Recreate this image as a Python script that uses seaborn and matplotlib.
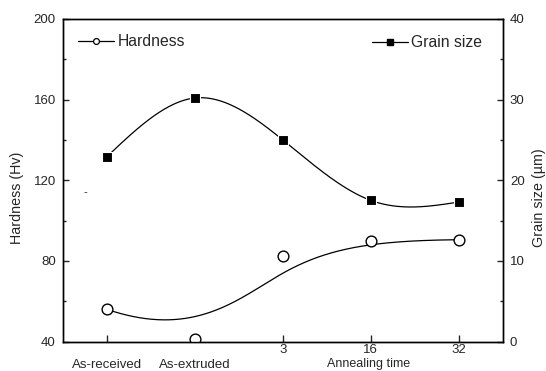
import numpy as np
import pandas as pd
import matplotlib
matplotlib.use("Agg")
import matplotlib.pyplot as plt
import seaborn as sns
from matplotlib.lines import Line2D
from matplotlib.ticker import MultipleLocator, FixedLocator
import matplotlib.transforms as mtransforms

# ---- data ----
conditions = ["As-received", "As-extruded", "3", "16", "32"]
positions = [1, 2, 3, 4, 5]
hardness = [56.0, 41.0, 82.2, 90.1, 90.5]
grain_size = [22.9, 30.2, 25.0, 17.5, 17.3]

sns.set_style("ticks")
plt.rcParams["font.family"] = ["Liberation Sans", "DejaVu Sans"]


def clamped_bspline(xc, yc, n=300, k=3):
    xc = np.asarray(xc, float); yc = np.asarray(yc, float)
    m = len(xc)
    n_int = m - k - 1
    knots = np.concatenate([np.zeros(k + 1), np.linspace(0, 1, n_int + 2)[1:-1], np.ones(k + 1)])
    t = np.linspace(0, 1 - 1e-9, n)

    def N(i, p, t):
        if p == 0:
            return ((knots[i] <= t) & (t < knots[i + 1])).astype(float)
        a = 0.0
        d1 = knots[i + p] - knots[i]
        if d1 > 0:
            a = (t - knots[i]) / d1 * N(i, p - 1, t)
        b = 0.0
        d2 = knots[i + p + 1] - knots[i + 1]
        if d2 > 0:
            b = (knots[i + p + 1] - t) / d2 * N(i + 1, p - 1, t)
        return a + b

    B = np.array([N(i, k, t) for i in range(m)])
    return B.T @ xc, B.T @ yc


def natural_spline(x, y, n=300):
    x = np.asarray(x, float); y = np.asarray(y, float)
    m = len(x)
    h = np.diff(x)
    A = np.zeros((m, m)); r = np.zeros(m)
    A[0, 0] = 1; A[-1, -1] = 1
    for i in range(1, m - 1):
        A[i, i - 1] = h[i - 1]; A[i, i] = 2 * (h[i - 1] + h[i]); A[i, i + 1] = h[i]
        r[i] = 6 * ((y[i + 1] - y[i]) / h[i] - (y[i] - y[i - 1]) / h[i - 1])
    M = np.linalg.solve(A, r)
    xs = np.linspace(x[0], x[-1], n)
    ys = np.empty_like(xs)
    for j, xv in enumerate(xs):
        i = min(np.searchsorted(x, xv, side="right") - 1, m - 2)
        a = x[i + 1] - xv; b = xv - x[i]
        ys[j] = (M[i] * a**3 + M[i + 1] * b**3) / (6 * h[i]) + (y[i] / h[i] - M[i] * h[i] / 6) * a + (y[i + 1] / h[i] - M[i + 1] * h[i] / 6) * b
    return xs, ys


fig = plt.figure(figsize=(5.46, 3.71), dpi=100)
ax = fig.add_axes([0.1148, 0.0795, 0.8064, 0.8693])
ax2 = ax.twinx()

hx, hy = clamped_bspline(positions, hardness)
gx, gy = natural_spline(positions, grain_size)

df_h = pd.DataFrame({"x": hx, "y": hy})
df_g = pd.DataFrame({"x": gx, "y": gy})

sns.lineplot(data=df_h, x="x", y="y", ax=ax, sort=False, color="black", lw=0.9, zorder=2)
sns.scatterplot(x=positions, y=hardness, ax=ax, marker="o", s=60, facecolor="white",
                edgecolor="black", linewidth=1.0, zorder=3)
sns.lineplot(data=df_g, x="x", y="y", ax=ax2, sort=False, color="black", lw=0.9, zorder=2)
sns.scatterplot(x=positions, y=grain_size, ax=ax2, marker="s", s=55, color="black",
                edgecolor="white", linewidth=0.8, zorder=3)

ax.set_xlim(0.5, 5.5)
ax.set_ylim(40, 200)
ax2.set_ylim(0, 40)

ax.yaxis.set_major_locator(MultipleLocator(40))
ax.yaxis.set_minor_locator(MultipleLocator(20))
ax2.yaxis.set_major_locator(MultipleLocator(10))
ax2.yaxis.set_minor_locator(MultipleLocator(5))
ax.xaxis.set_major_locator(FixedLocator(positions))
ax.set_xticklabels(conditions)

for a in (ax, ax2):
    for s in a.spines.values():
        s.set_linewidth(1.0)
        s.set_color("black")

ax.tick_params(axis="y", which="major", direction="in", length=4.5, width=1.0, pad=5, labelsize=9.5, left=True, right=False)
ax.tick_params(axis="y", which="minor", direction="in", length=2.5, width=1.0, left=True, right=False)
ax.tick_params(axis="x", which="major", direction="in", length=5, width=1.0, pad=1.5, labelsize=9.5, top=False)
ax2.tick_params(axis="y", which="major", direction="in", length=4.5, width=1.0, pad=5, labelsize=9.5, right=True, left=False)
ax2.tick_params(axis="y", which="minor", direction="in", length=2.5, width=1.0, right=True, left=False)

# shift the two categorical labels lower
offset = mtransforms.ScaledTranslation(0, -15 / 100, fig.dpi_scale_trans)
for lbl in ax.get_xticklabels()[:2]:
    lbl.set_transform(lbl.get_transform() + offset)

ax.set_xlabel("")
ax.set_ylabel("")
ax2.set_ylabel("")
fig.text(17.5 / 546, 1 - 198 / 371, "Hardness (Hv)", rotation=90, ha="center", va="center", fontsize=10.3)
fig.text(539 / 546, 1 - 198 / 371, "Grain size (\u00b5m)", rotation=90, ha="center", va="center", fontsize=10.3)
fig.text(369 / 546, 0.5 / 371, "Annealing time", ha="center", va="bottom", fontsize=9)
fig.text(85 / 546, 1 - 192 / 371, "-", ha="center", va="center", fontsize=8)

h1 = Line2D([], [], color="black", lw=0.9, marker="o", ms=4.2, mfc="white", mec="black", mew=0.9)
h2 = Line2D([], [], color="black", lw=0.9, marker="s", ms=4.0, mfc="black", mec="black")
ax.legend([h1], ["Hardness"], loc="center left", bbox_to_anchor=(0.035, 0.929),
          frameon=False, borderpad=0, borderaxespad=0, handlelength=2.3,
          handletextpad=0.2, fontsize=11.3)
ax2.legend([h2], ["Grain size"], loc="center left", bbox_to_anchor=(0.7025, 0.926),
           frameon=False, borderpad=0, borderaxespad=0, handlelength=2.3,
           handletextpad=0.2, fontsize=11.3)

fig.savefig("out.png", dpi=100)
